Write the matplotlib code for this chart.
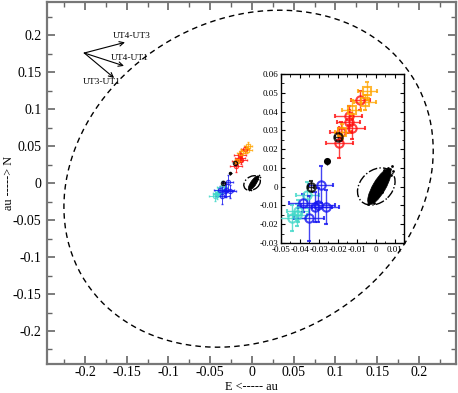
import matplotlib
matplotlib.use("Agg")
import matplotlib.pyplot as plt
from matplotlib.patches import Ellipse
from matplotlib.ticker import MultipleLocator

plt.rcParams['font.family'] = ['Liberation Serif', 'DejaVu Serif']

# ---- data (au) ----
orange_x = [-0.0046, -0.0057, -0.0128, -0.0176]
orange_y = [0.0509, 0.0449, 0.0410, 0.0293]
orange_ex = [0.005, 0.006, 0.005, 0.004]
orange_ey = [0.005, 0.004, 0.005, 0.004]

red_x = [-0.0082, -0.0144, -0.0144, -0.0126, -0.0184, -0.0193]
red_y = [0.0459, 0.0378, 0.0346, 0.0314, 0.0293, 0.0230]
red_ex = [0.005, 0.007, 0.006, 0.0066, 0.006, 0.007]
red_ey = [0.005, 0.005, 0.006, 0.006, 0.005, 0.008]

black_x = [-0.0199, -0.0342]
black_y = [0.0266, 0.0000]
black_ex = [0.0015, 0.0015]
black_ey = [0.002, 0.003]

clump_x = [-0.0257]
clump_y = [0.0135]

blue_x = [-0.0289, -0.0385, -0.0307, -0.0321, -0.0264, -0.0353]
blue_y = [0.0011, -0.0087, -0.0099, -0.0106, -0.0110, -0.0168]
blue_ex = [0.0065, 0.0075, 0.009, 0.009, 0.007, 0.008]
blue_ey = [0.010, 0.005, 0.009, 0.008, 0.009, 0.012]

cyan_x = [-0.0362, -0.0410, -0.0415, -0.0443]
cyan_y = [-0.0046, -0.0129, -0.0151, -0.0168]
cyan_ex = [0.006, 0.006, 0.005, 0.0075]
cyan_ey = [0.007, 0.006, 0.006, 0.007]

# dense cloud near origin: core ellipse + outlying points
cloud_center = (0.0018, 0.0000)
cloud_size = (0.0215, 0.0068, 60)
cloud_out_x = [0.0084, 0.0072, -0.0040, 0.0065, -0.0025, 0.0092, 0.0055, -0.0038,
               0.0030, 0.0078, -0.0010, 0.0045]
cloud_out_y = [0.0110, 0.0095, -0.0095, 0.0102, -0.0070, 0.0082, 0.0035, -0.0078,
               -0.0030, 0.0060, -0.0088, 0.0088]

# outer dashed ellipse and inner dash-dot ellipse
outer_ell = dict(center=(-0.004, 0.006), w=0.486, h=0.409, ang=50)
inner_ell = dict(center=(0.0002, 0.0001), w=0.0223, h=0.0169, ang=45)

# baseline arrows
arrow_origin = (-0.2008, 0.176)
arrow_tips = [(-0.1521, 0.1904), (-0.1533, 0.1586), (-0.1651, 0.1423)]
arrow_labels = ["UT4-UT3", "UT4-UT1", "UT3-UT1"]
label_pos = [(-0.1665, 0.1986), (-0.1690, 0.1690), (-0.2024, 0.1365)]

major_ticks = [-0.2, -0.15, -0.1, -0.05, 0, 0.05, 0.1, 0.15, 0.2]
tick_labels = ["-0.2", "-0.15", "-0.1", "-0.05", "0", "0.05", "0.1", "0.15", "0.2"]

ORANGE = '#FFA500'
RED = '#FF1010'
BLUE = '#1515F0'
CYAN = '#40D8C8'


def draw(ax, ms, mew, elw, cap, cloud_ms):
    ax.add_patch(Ellipse(cloud_center, cloud_size[0], cloud_size[1], angle=cloud_size[2],
                         facecolor='black', edgecolor='black', lw=0.5, zorder=3))
    ax.plot(cloud_out_x, cloud_out_y, 'o', color='black', ms=cloud_ms, mew=0, zorder=3)
    ax.add_patch(Ellipse(inner_ell['center'], inner_ell['w'], inner_ell['h'],
                         angle=inner_ell['ang'], fill=False, ls='-.', lw=1.0,
                         edgecolor='black', zorder=3))
    groups = [
        (cyan_x, cyan_y, cyan_ex, cyan_ey, CYAN, 'o'),
        (blue_x, blue_y, blue_ex, blue_ey, BLUE, 'o'),
        (red_x, red_y, red_ex, red_ey, RED, 'o'),
        (orange_x, orange_y, orange_ex, orange_ey, ORANGE, 's'),
        (black_x, black_y, black_ex, black_ey, 'black', 'o'),
    ]
    for x, y, ex, ey, c, m in groups:
        ax.errorbar(x, y, xerr=ex, yerr=ey, fmt=m, color=c, mfc='none', mec=c,
                    ms=ms, mew=mew, elinewidth=elw, capsize=cap, capthick=elw,
                    ecolor=c, alpha=0.8, zorder=4)
    ax.errorbar(clump_x, clump_y, xerr=0.0015, yerr=0.002, fmt='o', color='black',
                ms=ms * 0.85, mew=0, elinewidth=elw, capsize=cap, zorder=4)


fig = plt.figure(figsize=(4.58, 3.93), dpi=100)
ax = fig.add_axes([0.1026, 0.0746, 0.893, 0.9203])
ax.set_xlim(-0.2455, 0.2445)
ax.set_ylim(-0.2442, 0.245)

ax.add_patch(Ellipse(outer_ell['center'], outer_ell['w'], outer_ell['h'],
                     angle=outer_ell['ang'], fill=False, ls=(0, (4, 3)), lw=1.0,
                     edgecolor='black'))
draw(ax, ms=3.0, mew=1.0, elw=0.7, cap=0.8, cloud_ms=1.2)

for tip in arrow_tips:
    ax.annotate("", xy=tip, xytext=arrow_origin,
                arrowprops=dict(arrowstyle='->', lw=0.8, color='black',
                                shrinkA=0, shrinkB=0, mutation_scale=8))
for lab, pos in zip(arrow_labels, label_pos):
    ax.text(pos[0], pos[1], lab, fontsize=6.8, ha='left', va='center')

ax.set_xticks(major_ticks)
ax.set_xticklabels(tick_labels)
ax.set_yticks(major_ticks)
ax.set_yticklabels(tick_labels)
ax.xaxis.set_minor_locator(MultipleLocator(0.025))
ax.yaxis.set_minor_locator(MultipleLocator(0.025))
ax.tick_params(which='both', direction='in', top=True, right=True,
               color='#666666', labelsize=10)
ax.tick_params(axis='x', which='major', pad=2)
ax.tick_params(axis='y', which='major', pad=4)
ax.tick_params(which='major', length=6, width=1.2)
ax.tick_params(which='minor', length=3.5, width=1.0)
for s in ax.spines.values():
    s.set_color('#777777')
    s.set_linewidth(1.6)
ax.set_xlabel("E <----- au", fontsize=8.8)
ax.set_ylabel("au -----> N", fontsize=8.8)
ax.xaxis.set_label_coords(0.5, -0.047)
ax.yaxis.set_label_coords(-0.078, 0.5)

# ---- inset ----
axi = fig.add_axes([0.6135, 0.3817, 0.2686, 0.43])
axi.set_xlim(-0.05, 0.0148)
axi.set_ylim(-0.03, 0.06)
draw(axi, ms=6.0, mew=1.5, elw=1.0, cap=1.2, cloud_ms=2.0)
axi.xaxis.set_minor_locator(MultipleLocator(0.005))
axi.yaxis.set_minor_locator(MultipleLocator(0.005))
axi.set_xticks([-0.05, -0.04, -0.03, -0.02, -0.01, 0, 0.01])
axi.set_xticklabels(["-0.05", "-0.04", "-0.03", "-0.02", "-0.01", "0", "0.01"])
axi.set_yticks([-0.03, -0.02, -0.01, 0, 0.01, 0.02, 0.03, 0.04, 0.05, 0.06])
axi.set_yticklabels(["-0.03", "-0.02", "-0.01", "0", "0.01", "0.02", "0.03",
                     "0.04", "0.05", "0.06"])
axi.tick_params(which='both', direction='in', top=True, right=True,
                labelsize=6.5, pad=2)
axi.tick_params(which='major', length=3, width=0.8)
axi.tick_params(which='minor', length=1.8, width=0.6)
for s in axi.spines.values():
    s.set_linewidth(1.0)

fig.savefig("out.png", dpi=100)
